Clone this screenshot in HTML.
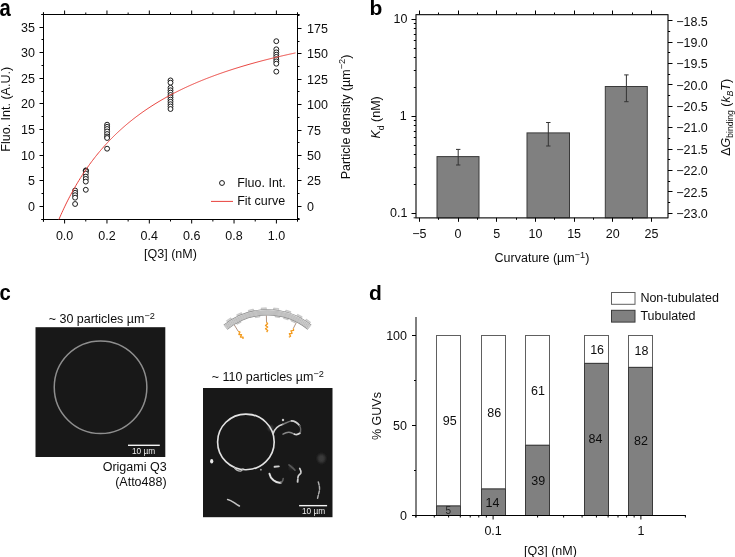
<!DOCTYPE html>
<html><head><meta charset="utf-8"><style>
html,body{margin:0;padding:0;background:#fff;}
body{width:735px;height:557px;overflow:hidden;}
svg{display:block;font-family:"Liberation Sans", sans-serif;will-change:transform;}
</style></head><body>
<svg width="735" height="557" viewBox="0 0 735 557">
<text x="0" y="0" font-size="23" font-weight="bold" fill="#000" transform="translate(-0.6 15.6) scale(0.88 1)">a</text>
<rect x="43.5" y="14.5" width="254.0" height="205.0" fill="none" stroke="#000" stroke-width="1.0"/>
<line x1="43.42" y1="219.50" x2="43.42" y2="221.50" stroke="#000" stroke-width="1.0" />
<line x1="43.42" y1="14.50" x2="43.42" y2="12.50" stroke="#000" stroke-width="1.0" />
<line x1="64.60" y1="219.50" x2="64.60" y2="223.50" stroke="#000" stroke-width="1.0" />
<line x1="64.60" y1="14.50" x2="64.60" y2="10.50" stroke="#000" stroke-width="1.0" />
<line x1="85.78" y1="219.50" x2="85.78" y2="221.50" stroke="#000" stroke-width="1.0" />
<line x1="85.78" y1="14.50" x2="85.78" y2="12.50" stroke="#000" stroke-width="1.0" />
<line x1="106.96" y1="219.50" x2="106.96" y2="223.50" stroke="#000" stroke-width="1.0" />
<line x1="106.96" y1="14.50" x2="106.96" y2="10.50" stroke="#000" stroke-width="1.0" />
<line x1="128.14" y1="219.50" x2="128.14" y2="221.50" stroke="#000" stroke-width="1.0" />
<line x1="128.14" y1="14.50" x2="128.14" y2="12.50" stroke="#000" stroke-width="1.0" />
<line x1="149.32" y1="219.50" x2="149.32" y2="223.50" stroke="#000" stroke-width="1.0" />
<line x1="149.32" y1="14.50" x2="149.32" y2="10.50" stroke="#000" stroke-width="1.0" />
<line x1="170.50" y1="219.50" x2="170.50" y2="221.50" stroke="#000" stroke-width="1.0" />
<line x1="170.50" y1="14.50" x2="170.50" y2="12.50" stroke="#000" stroke-width="1.0" />
<line x1="191.68" y1="219.50" x2="191.68" y2="223.50" stroke="#000" stroke-width="1.0" />
<line x1="191.68" y1="14.50" x2="191.68" y2="10.50" stroke="#000" stroke-width="1.0" />
<line x1="212.86" y1="219.50" x2="212.86" y2="221.50" stroke="#000" stroke-width="1.0" />
<line x1="212.86" y1="14.50" x2="212.86" y2="12.50" stroke="#000" stroke-width="1.0" />
<line x1="234.04" y1="219.50" x2="234.04" y2="223.50" stroke="#000" stroke-width="1.0" />
<line x1="234.04" y1="14.50" x2="234.04" y2="10.50" stroke="#000" stroke-width="1.0" />
<line x1="255.22" y1="219.50" x2="255.22" y2="221.50" stroke="#000" stroke-width="1.0" />
<line x1="255.22" y1="14.50" x2="255.22" y2="12.50" stroke="#000" stroke-width="1.0" />
<line x1="276.40" y1="219.50" x2="276.40" y2="223.50" stroke="#000" stroke-width="1.0" />
<line x1="276.40" y1="14.50" x2="276.40" y2="10.50" stroke="#000" stroke-width="1.0" />
<line x1="43.50" y1="219.50" x2="43.50" y2="221.70" stroke="#000" stroke-width="1.0" />
<line x1="43.50" y1="14.50" x2="43.50" y2="12.30" stroke="#000" stroke-width="1.0" />
<line x1="297.50" y1="219.50" x2="297.50" y2="221.70" stroke="#000" stroke-width="1.0" />
<line x1="297.50" y1="14.50" x2="297.50" y2="12.30" stroke="#000" stroke-width="1.0" />
<text x="64.60" y="239.50" font-size="12.5" text-anchor="middle" fill="#0d0d0d" font-weight="normal" >0.0</text>
<text x="106.96" y="239.50" font-size="12.5" text-anchor="middle" fill="#0d0d0d" font-weight="normal" >0.2</text>
<text x="149.32" y="239.50" font-size="12.5" text-anchor="middle" fill="#0d0d0d" font-weight="normal" >0.4</text>
<text x="191.68" y="239.50" font-size="12.5" text-anchor="middle" fill="#0d0d0d" font-weight="normal" >0.6</text>
<text x="234.04" y="239.50" font-size="12.5" text-anchor="middle" fill="#0d0d0d" font-weight="normal" >0.8</text>
<text x="276.40" y="239.50" font-size="12.5" text-anchor="middle" fill="#0d0d0d" font-weight="normal" >1.0</text>
<line x1="43.50" y1="219.50" x2="41.50" y2="219.50" stroke="#000" stroke-width="1.0" />
<line x1="43.50" y1="206.50" x2="39.50" y2="206.50" stroke="#000" stroke-width="1.0" />
<text x="35.00" y="210.80" font-size="12.5" text-anchor="end" fill="#0d0d0d" font-weight="normal" >0</text>
<line x1="43.50" y1="193.50" x2="41.50" y2="193.50" stroke="#000" stroke-width="1.0" />
<line x1="43.50" y1="180.50" x2="39.50" y2="180.50" stroke="#000" stroke-width="1.0" />
<text x="35.00" y="184.80" font-size="12.5" text-anchor="end" fill="#0d0d0d" font-weight="normal" >5</text>
<line x1="43.50" y1="167.50" x2="41.50" y2="167.50" stroke="#000" stroke-width="1.0" />
<line x1="43.50" y1="155.50" x2="39.50" y2="155.50" stroke="#000" stroke-width="1.0" />
<text x="35.00" y="159.80" font-size="12.5" text-anchor="end" fill="#0d0d0d" font-weight="normal" >10</text>
<line x1="43.50" y1="142.50" x2="41.50" y2="142.50" stroke="#000" stroke-width="1.0" />
<line x1="43.50" y1="129.50" x2="39.50" y2="129.50" stroke="#000" stroke-width="1.0" />
<text x="35.00" y="133.80" font-size="12.5" text-anchor="end" fill="#0d0d0d" font-weight="normal" >15</text>
<line x1="43.50" y1="116.50" x2="41.50" y2="116.50" stroke="#000" stroke-width="1.0" />
<line x1="43.50" y1="103.50" x2="39.50" y2="103.50" stroke="#000" stroke-width="1.0" />
<text x="35.00" y="107.80" font-size="12.5" text-anchor="end" fill="#0d0d0d" font-weight="normal" >20</text>
<line x1="43.50" y1="91.50" x2="41.50" y2="91.50" stroke="#000" stroke-width="1.0" />
<line x1="43.50" y1="78.50" x2="39.50" y2="78.50" stroke="#000" stroke-width="1.0" />
<text x="35.00" y="82.80" font-size="12.5" text-anchor="end" fill="#0d0d0d" font-weight="normal" >25</text>
<line x1="43.50" y1="65.50" x2="41.50" y2="65.50" stroke="#000" stroke-width="1.0" />
<line x1="43.50" y1="52.50" x2="39.50" y2="52.50" stroke="#000" stroke-width="1.0" />
<text x="35.00" y="56.80" font-size="12.5" text-anchor="end" fill="#0d0d0d" font-weight="normal" >30</text>
<line x1="43.50" y1="39.50" x2="41.50" y2="39.50" stroke="#000" stroke-width="1.0" />
<line x1="43.50" y1="27.50" x2="39.50" y2="27.50" stroke="#000" stroke-width="1.0" />
<text x="35.00" y="31.80" font-size="12.5" text-anchor="end" fill="#0d0d0d" font-weight="normal" >35</text>
<line x1="43.50" y1="14.50" x2="41.50" y2="14.50" stroke="#000" stroke-width="1.0" />
<line x1="43.50" y1="14.50" x2="41.30" y2="14.50" stroke="#000" stroke-width="1.0" />
<line x1="43.50" y1="219.50" x2="41.30" y2="219.50" stroke="#000" stroke-width="1.0" />
<line x1="297.50" y1="218.50" x2="299.50" y2="218.50" stroke="#000" stroke-width="1.0" />
<line x1="297.50" y1="206.50" x2="301.50" y2="206.50" stroke="#000" stroke-width="1.0" />
<text x="307.00" y="210.80" font-size="12.5" text-anchor="start" fill="#0d0d0d" font-weight="normal" >0</text>
<line x1="297.50" y1="193.50" x2="299.50" y2="193.50" stroke="#000" stroke-width="1.0" />
<line x1="297.50" y1="180.50" x2="301.50" y2="180.50" stroke="#000" stroke-width="1.0" />
<text x="307.00" y="184.80" font-size="12.5" text-anchor="start" fill="#0d0d0d" font-weight="normal" >25</text>
<line x1="297.50" y1="168.50" x2="299.50" y2="168.50" stroke="#000" stroke-width="1.0" />
<line x1="297.50" y1="155.50" x2="301.50" y2="155.50" stroke="#000" stroke-width="1.0" />
<text x="307.00" y="159.80" font-size="12.5" text-anchor="start" fill="#0d0d0d" font-weight="normal" >50</text>
<line x1="297.50" y1="142.50" x2="299.50" y2="142.50" stroke="#000" stroke-width="1.0" />
<line x1="297.50" y1="130.50" x2="301.50" y2="130.50" stroke="#000" stroke-width="1.0" />
<text x="307.00" y="134.80" font-size="12.5" text-anchor="start" fill="#0d0d0d" font-weight="normal" >75</text>
<line x1="297.50" y1="117.50" x2="299.50" y2="117.50" stroke="#000" stroke-width="1.0" />
<line x1="297.50" y1="104.50" x2="301.50" y2="104.50" stroke="#000" stroke-width="1.0" />
<text x="307.00" y="108.80" font-size="12.5" text-anchor="start" fill="#0d0d0d" font-weight="normal" >100</text>
<line x1="297.50" y1="91.50" x2="299.50" y2="91.50" stroke="#000" stroke-width="1.0" />
<line x1="297.50" y1="79.50" x2="301.50" y2="79.50" stroke="#000" stroke-width="1.0" />
<text x="307.00" y="83.80" font-size="12.5" text-anchor="start" fill="#0d0d0d" font-weight="normal" >125</text>
<line x1="297.50" y1="66.50" x2="299.50" y2="66.50" stroke="#000" stroke-width="1.0" />
<line x1="297.50" y1="53.50" x2="301.50" y2="53.50" stroke="#000" stroke-width="1.0" />
<text x="307.00" y="57.80" font-size="12.5" text-anchor="start" fill="#0d0d0d" font-weight="normal" >150</text>
<line x1="297.50" y1="41.50" x2="299.50" y2="41.50" stroke="#000" stroke-width="1.0" />
<line x1="297.50" y1="28.50" x2="301.50" y2="28.50" stroke="#000" stroke-width="1.0" />
<text x="307.00" y="32.80" font-size="12.5" text-anchor="start" fill="#0d0d0d" font-weight="normal" >175</text>
<line x1="297.50" y1="15.50" x2="299.50" y2="15.50" stroke="#000" stroke-width="1.0" />
<line x1="297.50" y1="14.50" x2="299.70" y2="14.50" stroke="#000" stroke-width="1.0" />
<line x1="297.50" y1="219.50" x2="299.70" y2="219.50" stroke="#000" stroke-width="1.0" />
<text x="9.90" y="109.30" font-size="12.5" text-anchor="middle" fill="#0d0d0d" font-weight="normal" transform="rotate(-90 9.9 109.3)">Fluo. Int. (A.U.)</text>
<text x="349.5" y="117" font-size="12.5" text-anchor="middle" fill="#0d0d0d" transform="rotate(-90 349.5 117)">Particle density (µm<tspan dy="-4.2" font-size="9.2">−2</tspan><tspan dy="4.2">)</tspan></text>
<text x="170.50" y="258.40" font-size="12.5" text-anchor="middle" fill="#0d0d0d" font-weight="normal" >[Q3] (nM)</text>
<circle cx="75.1" cy="190.5" r="2.45" fill="#fff" stroke="#111" stroke-width="0.95"/>
<circle cx="75.1" cy="192.8" r="2.45" fill="#fff" stroke="#111" stroke-width="0.95"/>
<circle cx="75.1" cy="195.2" r="2.45" fill="#fff" stroke="#111" stroke-width="0.95"/>
<circle cx="75.1" cy="197.7" r="2.45" fill="#fff" stroke="#111" stroke-width="0.95"/>
<circle cx="75.1" cy="204.0" r="2.45" fill="#fff" stroke="#111" stroke-width="0.95"/>
<circle cx="85.8" cy="170.4" r="2.45" fill="#fff" stroke="#111" stroke-width="0.95"/>
<circle cx="85.8" cy="170.8" r="2.45" fill="#fff" stroke="#111" stroke-width="0.95"/>
<circle cx="85.8" cy="171.2" r="2.45" fill="#fff" stroke="#111" stroke-width="0.95"/>
<circle cx="85.8" cy="173.5" r="2.45" fill="#fff" stroke="#111" stroke-width="0.95"/>
<circle cx="85.8" cy="176.6" r="2.45" fill="#fff" stroke="#111" stroke-width="0.95"/>
<circle cx="85.8" cy="178.9" r="2.45" fill="#fff" stroke="#111" stroke-width="0.95"/>
<circle cx="85.8" cy="181.6" r="2.45" fill="#fff" stroke="#111" stroke-width="0.95"/>
<circle cx="85.8" cy="189.8" r="2.45" fill="#fff" stroke="#111" stroke-width="0.95"/>
<circle cx="107.1" cy="124.7" r="2.45" fill="#fff" stroke="#111" stroke-width="0.95"/>
<circle cx="107.1" cy="126.8" r="2.45" fill="#fff" stroke="#111" stroke-width="0.95"/>
<circle cx="107.1" cy="129.0" r="2.45" fill="#fff" stroke="#111" stroke-width="0.95"/>
<circle cx="107.1" cy="131.5" r="2.45" fill="#fff" stroke="#111" stroke-width="0.95"/>
<circle cx="107.1" cy="134.0" r="2.45" fill="#fff" stroke="#111" stroke-width="0.95"/>
<circle cx="107.1" cy="136.5" r="2.45" fill="#fff" stroke="#111" stroke-width="0.95"/>
<circle cx="107.1" cy="138.0" r="2.45" fill="#fff" stroke="#111" stroke-width="0.95"/>
<circle cx="107.1" cy="148.7" r="2.45" fill="#fff" stroke="#111" stroke-width="0.95"/>
<circle cx="170.5" cy="80.4" r="2.45" fill="#fff" stroke="#111" stroke-width="0.95"/>
<circle cx="170.5" cy="82.7" r="2.45" fill="#fff" stroke="#111" stroke-width="0.95"/>
<circle cx="170.5" cy="87.8" r="2.45" fill="#fff" stroke="#111" stroke-width="0.95"/>
<circle cx="170.5" cy="90.3" r="2.45" fill="#fff" stroke="#111" stroke-width="0.95"/>
<circle cx="170.5" cy="92.6" r="2.45" fill="#fff" stroke="#111" stroke-width="0.95"/>
<circle cx="170.5" cy="95.0" r="2.45" fill="#fff" stroke="#111" stroke-width="0.95"/>
<circle cx="170.5" cy="97.3" r="2.45" fill="#fff" stroke="#111" stroke-width="0.95"/>
<circle cx="170.5" cy="99.6" r="2.45" fill="#fff" stroke="#111" stroke-width="0.95"/>
<circle cx="170.5" cy="101.8" r="2.45" fill="#fff" stroke="#111" stroke-width="0.95"/>
<circle cx="170.5" cy="104.2" r="2.45" fill="#fff" stroke="#111" stroke-width="0.95"/>
<circle cx="170.5" cy="106.5" r="2.45" fill="#fff" stroke="#111" stroke-width="0.95"/>
<circle cx="170.5" cy="109.0" r="2.45" fill="#fff" stroke="#111" stroke-width="0.95"/>
<circle cx="276.3" cy="41.2" r="2.45" fill="#fff" stroke="#111" stroke-width="0.95"/>
<circle cx="276.3" cy="49.3" r="2.45" fill="#fff" stroke="#111" stroke-width="0.95"/>
<circle cx="276.3" cy="52.4" r="2.45" fill="#fff" stroke="#111" stroke-width="0.95"/>
<circle cx="276.3" cy="54.7" r="2.45" fill="#fff" stroke="#111" stroke-width="0.95"/>
<circle cx="276.3" cy="56.9" r="2.45" fill="#fff" stroke="#111" stroke-width="0.95"/>
<circle cx="276.3" cy="59.2" r="2.45" fill="#fff" stroke="#111" stroke-width="0.95"/>
<circle cx="276.3" cy="61.4" r="2.45" fill="#fff" stroke="#111" stroke-width="0.95"/>
<circle cx="276.3" cy="63.7" r="2.45" fill="#fff" stroke="#111" stroke-width="0.95"/>
<circle cx="276.3" cy="71.6" r="2.45" fill="#fff" stroke="#111" stroke-width="0.95"/>
<clipPath id="clipa"><rect x="43.5" y="14.5" width="254.0" height="205.0"/></clipPath>
<polyline clip-path="url(#clipa)" fill="none" stroke="#e8413c" stroke-width="1" points="58.04,221.47 59.03,219.15 60.02,216.87 61.01,214.64 62.00,212.45 62.99,210.30 63.98,208.18 64.97,206.11 65.95,204.07 66.94,202.07 67.93,200.11 68.92,198.18 69.91,196.28 70.90,194.42 71.89,192.59 72.88,190.79 73.87,189.02 74.86,187.28 75.85,185.57 76.84,183.89 77.83,182.23 78.82,180.60 79.81,179.00 80.79,177.42 81.78,175.87 82.77,174.34 83.76,172.84 84.75,171.35 85.74,169.90 86.73,168.46 87.72,167.05 88.71,165.65 89.70,164.28 90.69,162.93 91.68,161.59 92.67,160.28 93.66,158.99 94.65,157.71 95.63,156.45 96.62,155.21 97.61,153.99 98.60,152.78 99.59,151.60 100.58,150.42 101.57,149.27 102.56,148.13 103.55,147.00 104.54,145.89 105.53,144.79 106.52,143.71 107.51,142.65 108.50,141.59 109.49,140.55 110.47,139.53 111.46,138.51 112.45,137.51 113.44,136.52 114.43,135.55 115.42,134.59 116.41,133.63 117.40,132.70 118.39,131.77 119.38,130.85 120.37,129.94 121.36,129.05 122.35,128.17 123.34,127.29 124.33,126.43 125.31,125.58 126.30,124.73 127.29,123.90 128.28,123.07 129.27,122.26 130.26,121.45 131.25,120.66 132.24,119.87 133.23,119.09 134.22,118.32 135.21,117.56 136.20,116.81 137.19,116.06 138.18,115.33 139.17,114.60 140.15,113.88 141.14,113.17 142.13,112.46 143.12,111.76 144.11,111.07 145.10,110.39 146.09,109.71 147.08,109.04 148.07,108.38 149.06,107.73 150.05,107.08 151.04,106.44 152.03,105.80 153.02,105.17 154.01,104.55 154.99,103.93 155.98,103.32 156.97,102.72 157.96,102.12 158.95,101.52 159.94,100.94 160.93,100.36 161.92,99.78 162.91,99.21 163.90,98.65 164.89,98.09 165.88,97.53 166.87,96.98 167.86,96.44 168.85,95.90 169.83,95.37 170.82,94.84 171.81,94.31 172.80,93.80 173.79,93.28 174.78,92.77 175.77,92.27 176.76,91.77 177.75,91.27 178.74,90.78 179.73,90.29 180.72,89.81 181.71,89.33 182.70,88.85 183.69,88.38 184.67,87.92 185.66,87.46 186.65,87.00 187.64,86.54 188.63,86.09 189.62,85.65 190.61,85.20 191.60,84.76 192.59,84.33 193.58,83.90 194.57,83.47 195.56,83.04 196.55,82.62 197.54,82.20 198.53,81.79 199.51,81.38 200.50,80.97 201.49,80.57 202.48,80.16 203.47,79.77 204.46,79.37 205.45,78.98 206.44,78.59 207.43,78.21 208.42,77.82 209.41,77.44 210.40,77.07 211.39,76.69 212.38,76.32 213.37,75.96 214.35,75.59 215.34,75.23 216.33,74.87 217.32,74.51 218.31,74.16 219.30,73.81 220.29,73.46 221.28,73.11 222.27,72.77 223.26,72.43 224.25,72.09 225.24,71.75 226.23,71.42 227.22,71.09 228.21,70.76 229.19,70.43 230.18,70.11 231.17,69.79 232.16,69.47 233.15,69.15 234.14,68.84 235.13,68.52 236.12,68.21 237.11,67.91 238.10,67.60 239.09,67.30 240.08,66.99 241.07,66.69 242.06,66.40 243.05,66.10 244.03,65.81 245.02,65.52 246.01,65.23 247.00,64.94 247.99,64.65 248.98,64.37 249.97,64.09 250.96,63.81 251.95,63.53 252.94,63.26 253.93,62.98 254.92,62.71 255.91,62.44 256.90,62.17 257.89,61.90 258.87,61.64 259.86,61.37 260.85,61.11 261.84,60.85 262.83,60.59 263.82,60.34 264.81,60.08 265.80,59.83 266.79,59.58 267.78,59.32 268.77,59.08 269.76,58.83 270.75,58.58 271.74,58.34 272.73,58.10 273.71,57.86 274.70,57.62 275.69,57.38 276.68,57.14 277.67,56.91 278.66,56.67 279.65,56.44 280.64,56.21 281.63,55.98 282.62,55.75 283.61,55.53 284.60,55.30 285.59,55.08 286.58,54.85 287.57,54.63 288.55,54.41 289.54,54.19 290.53,53.98 291.52,53.76 292.51,53.55 293.50,53.33 294.49,53.12 295.48,52.91"/>
<circle cx="222" cy="183" r="2.45" fill="#fff" stroke="#111" stroke-width="0.95"/>
<text x="237.20" y="186.60" font-size="12.5" text-anchor="start" fill="#0d0d0d" font-weight="normal" >Fluo. Int.</text>
<line x1="211.00" y1="201.40" x2="233.00" y2="201.40" stroke="#e8413c" stroke-width="1" />
<text x="237.20" y="204.60" font-size="12.5" text-anchor="start" fill="#0d0d0d" font-weight="normal" >Fit curve</text>
<text x="369.40" y="15.30" font-size="21" text-anchor="start" fill="#000" font-weight="bold" >b</text>
<rect x="437.00" y="156.60" width="42.00" height="61.20" fill="#808080" stroke="#3a3a3a" stroke-width="1"/>
<rect x="527.00" y="132.90" width="42.50" height="84.90" fill="#808080" stroke="#3a3a3a" stroke-width="1"/>
<rect x="605.30" y="86.50" width="42.00" height="131.30" fill="#808080" stroke="#3a3a3a" stroke-width="1"/>
<line x1="458.20" y1="149.40" x2="458.20" y2="165.00" stroke="#333" stroke-width="1" />
<line x1="456.00" y1="149.40" x2="460.40" y2="149.40" stroke="#333" stroke-width="1" />
<line x1="456.00" y1="165.00" x2="460.40" y2="165.00" stroke="#333" stroke-width="1" />
<line x1="548.30" y1="122.50" x2="548.30" y2="146.00" stroke="#333" stroke-width="1" />
<line x1="546.10" y1="122.50" x2="550.50" y2="122.50" stroke="#333" stroke-width="1" />
<line x1="546.10" y1="146.00" x2="550.50" y2="146.00" stroke="#333" stroke-width="1" />
<line x1="626.40" y1="74.90" x2="626.40" y2="101.70" stroke="#333" stroke-width="1" />
<line x1="624.20" y1="74.90" x2="628.60" y2="74.90" stroke="#333" stroke-width="1" />
<line x1="624.20" y1="101.70" x2="628.60" y2="101.70" stroke="#333" stroke-width="1" />
<rect x="416.0" y="14.5" width="252.0" height="203.3" fill="none" stroke="#222" stroke-width="1.25" stroke-linejoin="round"/>
<line x1="419.50" y1="217.80" x2="419.50" y2="221.80" stroke="#000" stroke-width="1.0" />
<line x1="419.50" y1="14.50" x2="419.50" y2="10.50" stroke="#000" stroke-width="1.0" />
<text x="419.30" y="238.00" font-size="12.5" text-anchor="middle" fill="#0d0d0d" font-weight="normal" >−5</text>
<line x1="438.50" y1="217.80" x2="438.50" y2="219.80" stroke="#000" stroke-width="1.0" />
<line x1="438.50" y1="14.50" x2="438.50" y2="12.50" stroke="#000" stroke-width="1.0" />
<line x1="458.50" y1="217.80" x2="458.50" y2="221.80" stroke="#000" stroke-width="1.0" />
<line x1="458.50" y1="14.50" x2="458.50" y2="10.50" stroke="#000" stroke-width="1.0" />
<text x="458.00" y="238.00" font-size="12.5" text-anchor="middle" fill="#0d0d0d" font-weight="normal" >0</text>
<line x1="477.50" y1="217.80" x2="477.50" y2="219.80" stroke="#000" stroke-width="1.0" />
<line x1="477.50" y1="14.50" x2="477.50" y2="12.50" stroke="#000" stroke-width="1.0" />
<line x1="496.50" y1="217.80" x2="496.50" y2="221.80" stroke="#000" stroke-width="1.0" />
<line x1="496.50" y1="14.50" x2="496.50" y2="10.50" stroke="#000" stroke-width="1.0" />
<text x="496.70" y="238.00" font-size="12.5" text-anchor="middle" fill="#0d0d0d" font-weight="normal" >5</text>
<line x1="516.50" y1="217.80" x2="516.50" y2="219.80" stroke="#000" stroke-width="1.0" />
<line x1="516.50" y1="14.50" x2="516.50" y2="12.50" stroke="#000" stroke-width="1.0" />
<line x1="535.50" y1="217.80" x2="535.50" y2="221.80" stroke="#000" stroke-width="1.0" />
<line x1="535.50" y1="14.50" x2="535.50" y2="10.50" stroke="#000" stroke-width="1.0" />
<text x="535.40" y="238.00" font-size="12.5" text-anchor="middle" fill="#0d0d0d" font-weight="normal" >10</text>
<line x1="554.50" y1="217.80" x2="554.50" y2="219.80" stroke="#000" stroke-width="1.0" />
<line x1="554.50" y1="14.50" x2="554.50" y2="12.50" stroke="#000" stroke-width="1.0" />
<line x1="574.50" y1="217.80" x2="574.50" y2="221.80" stroke="#000" stroke-width="1.0" />
<line x1="574.50" y1="14.50" x2="574.50" y2="10.50" stroke="#000" stroke-width="1.0" />
<text x="574.10" y="238.00" font-size="12.5" text-anchor="middle" fill="#0d0d0d" font-weight="normal" >15</text>
<line x1="593.50" y1="217.80" x2="593.50" y2="219.80" stroke="#000" stroke-width="1.0" />
<line x1="593.50" y1="14.50" x2="593.50" y2="12.50" stroke="#000" stroke-width="1.0" />
<line x1="612.50" y1="217.80" x2="612.50" y2="221.80" stroke="#000" stroke-width="1.0" />
<line x1="612.50" y1="14.50" x2="612.50" y2="10.50" stroke="#000" stroke-width="1.0" />
<text x="612.80" y="238.00" font-size="12.5" text-anchor="middle" fill="#0d0d0d" font-weight="normal" >20</text>
<line x1="632.50" y1="217.80" x2="632.50" y2="219.80" stroke="#000" stroke-width="1.0" />
<line x1="632.50" y1="14.50" x2="632.50" y2="12.50" stroke="#000" stroke-width="1.0" />
<line x1="651.50" y1="217.80" x2="651.50" y2="221.80" stroke="#000" stroke-width="1.0" />
<line x1="651.50" y1="14.50" x2="651.50" y2="10.50" stroke="#000" stroke-width="1.0" />
<text x="651.50" y="238.00" font-size="12.5" text-anchor="middle" fill="#0d0d0d" font-weight="normal" >25</text>
<line x1="416.00" y1="217.80" x2="413.60" y2="217.80" stroke="#222" stroke-width="1" />
<line x1="416.00" y1="213.50" x2="411.50" y2="213.50" stroke="#000" stroke-width="1.0" />
<line x1="416.00" y1="184.50" x2="413.80" y2="184.50" stroke="#000" stroke-width="1.0" />
<line x1="416.00" y1="167.50" x2="413.80" y2="167.50" stroke="#000" stroke-width="1.0" />
<line x1="416.00" y1="154.50" x2="413.80" y2="154.50" stroke="#000" stroke-width="1.0" />
<line x1="416.00" y1="145.50" x2="413.80" y2="145.50" stroke="#000" stroke-width="1.0" />
<line x1="416.00" y1="137.50" x2="413.80" y2="137.50" stroke="#000" stroke-width="1.0" />
<line x1="416.00" y1="131.50" x2="413.80" y2="131.50" stroke="#000" stroke-width="1.0" />
<line x1="416.00" y1="125.50" x2="413.80" y2="125.50" stroke="#000" stroke-width="1.0" />
<line x1="416.00" y1="120.50" x2="413.80" y2="120.50" stroke="#000" stroke-width="1.0" />
<line x1="416.00" y1="116.50" x2="411.50" y2="116.50" stroke="#000" stroke-width="1.0" />
<line x1="416.00" y1="87.50" x2="413.80" y2="87.50" stroke="#000" stroke-width="1.0" />
<line x1="416.00" y1="70.50" x2="413.80" y2="70.50" stroke="#000" stroke-width="1.0" />
<line x1="416.00" y1="57.50" x2="413.80" y2="57.50" stroke="#000" stroke-width="1.0" />
<line x1="416.00" y1="48.50" x2="413.80" y2="48.50" stroke="#000" stroke-width="1.0" />
<line x1="416.00" y1="40.50" x2="413.80" y2="40.50" stroke="#000" stroke-width="1.0" />
<line x1="416.00" y1="34.50" x2="413.80" y2="34.50" stroke="#000" stroke-width="1.0" />
<line x1="416.00" y1="28.50" x2="413.80" y2="28.50" stroke="#000" stroke-width="1.0" />
<line x1="416.00" y1="23.50" x2="413.80" y2="23.50" stroke="#000" stroke-width="1.0" />
<line x1="416.00" y1="19.50" x2="411.50" y2="19.50" stroke="#000" stroke-width="1.0" />
<text x="407.50" y="23.10" font-size="12.5" text-anchor="end" fill="#0d0d0d" font-weight="normal" >10</text>
<text x="406.80" y="120.10" font-size="12.5" text-anchor="end" fill="#0d0d0d" font-weight="normal" >1</text>
<text x="407.50" y="217.10" font-size="12.5" text-anchor="end" fill="#0d0d0d" font-weight="normal" >0.1</text>
<line x1="668.00" y1="20.50" x2="672.50" y2="20.50" stroke="#000" stroke-width="1.0" />
<text x="676.20" y="25.70" font-size="12.5" text-anchor="start" fill="#0d0d0d" font-weight="normal" >−18.5</text>
<line x1="668.00" y1="31.50" x2="670.20" y2="31.50" stroke="#000" stroke-width="1.0" />
<line x1="668.00" y1="42.50" x2="672.50" y2="42.50" stroke="#000" stroke-width="1.0" />
<text x="676.20" y="47.05" font-size="12.5" text-anchor="start" fill="#0d0d0d" font-weight="normal" >−19.0</text>
<line x1="668.00" y1="52.50" x2="670.20" y2="52.50" stroke="#000" stroke-width="1.0" />
<line x1="668.00" y1="63.50" x2="672.50" y2="63.50" stroke="#000" stroke-width="1.0" />
<text x="676.20" y="68.40" font-size="12.5" text-anchor="start" fill="#0d0d0d" font-weight="normal" >−19.5</text>
<line x1="668.00" y1="74.50" x2="670.20" y2="74.50" stroke="#000" stroke-width="1.0" />
<line x1="668.00" y1="84.50" x2="672.50" y2="84.50" stroke="#000" stroke-width="1.0" />
<text x="676.20" y="89.75" font-size="12.5" text-anchor="start" fill="#0d0d0d" font-weight="normal" >−20.0</text>
<line x1="668.00" y1="95.50" x2="670.20" y2="95.50" stroke="#000" stroke-width="1.0" />
<line x1="668.00" y1="106.50" x2="672.50" y2="106.50" stroke="#000" stroke-width="1.0" />
<text x="676.20" y="111.10" font-size="12.5" text-anchor="start" fill="#0d0d0d" font-weight="normal" >−20.5</text>
<line x1="668.00" y1="116.50" x2="670.20" y2="116.50" stroke="#000" stroke-width="1.0" />
<line x1="668.00" y1="127.50" x2="672.50" y2="127.50" stroke="#000" stroke-width="1.0" />
<text x="676.20" y="132.45" font-size="12.5" text-anchor="start" fill="#0d0d0d" font-weight="normal" >−21.0</text>
<line x1="668.00" y1="138.50" x2="670.20" y2="138.50" stroke="#000" stroke-width="1.0" />
<line x1="668.00" y1="149.50" x2="672.50" y2="149.50" stroke="#000" stroke-width="1.0" />
<text x="676.20" y="153.80" font-size="12.5" text-anchor="start" fill="#0d0d0d" font-weight="normal" >−21.5</text>
<line x1="668.00" y1="159.50" x2="670.20" y2="159.50" stroke="#000" stroke-width="1.0" />
<line x1="668.00" y1="170.50" x2="672.50" y2="170.50" stroke="#000" stroke-width="1.0" />
<text x="676.20" y="175.15" font-size="12.5" text-anchor="start" fill="#0d0d0d" font-weight="normal" >−22.0</text>
<line x1="668.00" y1="181.50" x2="670.20" y2="181.50" stroke="#000" stroke-width="1.0" />
<line x1="668.00" y1="191.50" x2="672.50" y2="191.50" stroke="#000" stroke-width="1.0" />
<text x="676.20" y="196.50" font-size="12.5" text-anchor="start" fill="#0d0d0d" font-weight="normal" >−22.5</text>
<line x1="668.00" y1="202.50" x2="670.20" y2="202.50" stroke="#000" stroke-width="1.0" />
<line x1="668.00" y1="213.50" x2="672.50" y2="213.50" stroke="#000" stroke-width="1.0" />
<text x="676.20" y="217.85" font-size="12.5" text-anchor="start" fill="#0d0d0d" font-weight="normal" >−23.0</text>
<text x="380.2" y="117.4" font-size="12.5" text-anchor="middle" fill="#0d0d0d" transform="rotate(-90 380.2 117.4)"><tspan font-style="italic">K</tspan><tspan dy="3.8" font-size="8.5">d</tspan><tspan dy="-3.8"> (nM)</tspan></text>
<text x="542" y="261.8" font-size="12.5" text-anchor="middle" fill="#0d0d0d">Curvature (µm<tspan dy="-4.2" font-size="9.2">−1</tspan><tspan dy="4.2">)</tspan></text>
<text x="730.3" y="117.3" font-size="12.5" text-anchor="middle" fill="#0d0d0d" transform="rotate(-90 730.3 117.3)">Δ<tspan font-style="italic">G</tspan><tspan dy="3" font-size="8.5">binding</tspan><tspan dy="-3"> (</tspan><tspan font-style="italic">k</tspan><tspan dy="3" font-size="8.5" font-style="italic">B</tspan><tspan dy="-3" font-style="italic">T</tspan>)</text>
<text x="0" y="0" font-size="22" font-weight="bold" fill="#000" transform="translate(-0.5 300.1) scale(0.92 1)">c</text>
<text x="101.8" y="322.7" font-size="12.5" text-anchor="middle" fill="#0d0d0d">~ 30 particles µm<tspan dy="-4.2" font-size="9.2">−2</tspan></text>
<defs><filter id="bl" x="-20%" y="-20%" width="140%" height="140%"><feGaussianBlur stdDeviation="0.5"/></filter><filter id="bl3" x="-20%" y="-20%" width="140%" height="140%"><feGaussianBlur stdDeviation="0.6"/></filter><filter id="bl2" x="-50%" y="-50%" width="200%" height="200%"><feGaussianBlur stdDeviation="1.2"/></filter></defs>
<rect x="35.5" y="327.2" width="129.8" height="129.8" fill="#181818"/>
<g filter="url(#bl)"><circle cx="100.55" cy="387.2" r="46.3" fill="none" stroke="#8e8e8e" stroke-width="1.5"/></g>
<line x1="128.00" y1="445.30" x2="159.80" y2="445.30" stroke="#f4f4f4" stroke-width="1.4" />
<text x="143.50" y="454.00" font-size="8.3" text-anchor="middle" fill="#eee" font-weight="normal" >10 µm</text>
<text x="166.60" y="471.40" font-size="12.5" text-anchor="end" fill="#0d0d0d" font-weight="normal" >Origami Q3</text>
<text x="166.60" y="486.40" font-size="12.5" text-anchor="end" fill="#0d0d0d" font-weight="normal" >(Atto488)</text>
<text x="267.8" y="380.8" font-size="12.5" text-anchor="middle" fill="#0d0d0d">~ 110 particles µm<tspan dy="-4.2" font-size="9.2">−2</tspan></text>
<rect x="203" y="388" width="129.5" height="129.2" fill="#181818"/>
<g filter="url(#bl2)"><ellipse cx="321.5" cy="458.5" rx="4" ry="4.5" fill="#3a3a3a"/><circle cx="270.5" cy="428" r="2.5" fill="#4a4a4a"/><circle cx="291" cy="467.5" r="2" fill="#303030"/></g>
<g filter="url(#bl3)" fill="none" stroke-linecap="round">
<ellipse cx="245.9" cy="441.9" rx="28.3" ry="27.8" stroke="#e2e2e2" stroke-width="1.62"/>
<path d="M273.2,433.5 C274.5,429 278.5,425.5 283,424.2" stroke="#d6d6d6" stroke-width="1.69"/>
<path d="M283,424.2 C286,423 288.5,421.5 291.5,420.9" stroke="#777" stroke-width="1.43"/>
<path d="M291.5,420.9 C294.5,421 297.5,423 299.5,425.5" stroke="#d0d0d0" stroke-width="1.69"/>
<path d="M299.5,425.5 C301,428 301,431 299.8,433.3" stroke="#666" stroke-width="1.43"/>
<path d="M283,434.2 C285,433 287,432.2 289,432.3 C291.5,432.6 293,433.5 294.5,434.2" stroke="#888" stroke-width="1.43"/>
<path d="M294.5,434.2 C296,434.8 298,434.6 299.8,433.3" stroke="#d8d8d8" stroke-width="1.69"/>
<path d="M274.6,466.8 L278.8,466.4" stroke="#d0d0d0" stroke-width="1.95"/>
<path d="M269.5,473.8 C269.8,476 271,478 273.5,480.3 C275.5,482 278.5,483 281.2,482.5" stroke="#e0e0e0" stroke-width="1.95"/>
<path d="M281.2,482.5 C282.5,481.5 283.3,480 283.2,478.5" stroke="#666" stroke-width="1.43"/>
<path d="M289,464.8 C291,466.5 293.5,468.5 295,470.2" stroke="#555" stroke-width="1.69"/>
<path d="M299.7,468.4 C300.6,470 301.3,471.8 300.9,472.9 C300.3,474.2 298.9,474.8 298.5,475.6 C298,476.8 297.8,477.5 297.9,478" stroke="#d0d0d0" stroke-width="1.69"/>
<path d="M297.8,479.5 L297.6,481.8" stroke="#ccc" stroke-width="1.82"/>
<path d="M318.3,482 C319.5,486 320,489 319,492.5 C318.3,495 318,497 317.3,499" stroke="#b0b0b0" stroke-width="1.43" stroke-dasharray="3 1.5"/>
<path d="M227.6,499.5 C230,500 232.5,501.5 234.5,502.8 C236,503.8 237.8,505 239.4,506" stroke="#c4c4c4" stroke-width="1.56"/>
<path d="M234,467.2 C235.5,469.5 237.5,471.3 240.5,471.2 C242,470.5 242.5,469.5 243,468.8" stroke="#bbb" stroke-width="1.30"/>
</g>
<ellipse cx="211.7" cy="461.3" rx="1.6" ry="2.3" fill="#e8e8e8" filter="url(#bl)"/>
<circle cx="283" cy="420" r="1.2" fill="#c8c8c8" filter="url(#bl)"/>
<circle cx="260.9" cy="469.7" r="0.9" fill="#aaa" filter="url(#bl)"/>
<line x1="299.10" y1="505.65" x2="327.10" y2="505.65" stroke="#f4f4f4" stroke-width="1.4" />
<text x="313.60" y="513.80" font-size="8.3" text-anchor="middle" fill="#eee" font-weight="normal" >10 µm</text>
<rect x="264.90" y="307.70" width="5.2" height="2.2" fill="#d2d2d2" stroke="#a8a8a8" stroke-width="0.4" transform="rotate(-33 267.5 379.1)"/>
<rect x="264.90" y="307.70" width="5.2" height="2.2" fill="#d2d2d2" stroke="#a8a8a8" stroke-width="0.4" transform="rotate(-23.5 267.5 379.1)"/>
<rect x="264.90" y="307.70" width="5.2" height="2.2" fill="#d2d2d2" stroke="#a8a8a8" stroke-width="0.4" transform="rotate(-13.5 267.5 379.1)"/>
<rect x="264.90" y="307.70" width="5.2" height="2.2" fill="#d2d2d2" stroke="#a8a8a8" stroke-width="0.4" transform="rotate(-3 267.5 379.1)"/>
<rect x="264.90" y="307.70" width="5.2" height="2.2" fill="#d2d2d2" stroke="#a8a8a8" stroke-width="0.4" transform="rotate(7 267.5 379.1)"/>
<rect x="264.90" y="307.70" width="5.2" height="2.2" fill="#d2d2d2" stroke="#a8a8a8" stroke-width="0.4" transform="rotate(17 267.5 379.1)"/>
<rect x="264.90" y="307.70" width="5.2" height="2.2" fill="#d2d2d2" stroke="#a8a8a8" stroke-width="0.4" transform="rotate(27 267.5 379.1)"/>
<rect x="264.90" y="307.70" width="5.2" height="2.2" fill="#d2d2d2" stroke="#a8a8a8" stroke-width="0.4" transform="rotate(35 267.5 379.1)"/>
<rect x="265.10" y="314.70" width="4.8" height="1.8" fill="#d2d2d2" stroke="#a8a8a8" stroke-width="0.4" transform="rotate(-27 267.5 379.1)"/>
<rect x="265.10" y="314.70" width="4.8" height="1.8" fill="#d2d2d2" stroke="#a8a8a8" stroke-width="0.4" transform="rotate(-9 267.5 379.1)"/>
<rect x="265.10" y="314.70" width="4.8" height="1.8" fill="#d2d2d2" stroke="#a8a8a8" stroke-width="0.4" transform="rotate(9 267.5 379.1)"/>
<rect x="265.10" y="314.70" width="4.8" height="1.8" fill="#d2d2d2" stroke="#a8a8a8" stroke-width="0.4" transform="rotate(17 267.5 379.1)"/>
<rect x="265.10" y="314.70" width="4.8" height="1.8" fill="#d2d2d2" stroke="#a8a8a8" stroke-width="0.4" transform="rotate(24 267.5 379.1)"/>
<path d="M225.46,327.19 A66.8,66.8 0 0 1 309.54,327.19" fill="none" stroke="#8a8a8a" stroke-width="6.3"/>
<path d="M225.46,327.19 A66.8,66.8 0 0 1 309.54,327.19" fill="none" stroke="#d9d9d9" stroke-width="5"/>
<path d="M226.97,328.15 A65.1,65.1 0 0 1 308.03,328.15" fill="none" stroke="#a0a0a0" stroke-width="0.5"/>
<path d="M226.29,327.29 A66.2,66.2 0 0 1 308.71,327.29" fill="none" stroke="#a0a0a0" stroke-width="0.5"/>
<path d="M225.60,326.43 A67.3,67.3 0 0 1 309.40,326.43" fill="none" stroke="#a0a0a0" stroke-width="0.5"/>
<path d="M224.92,325.57 A68.39999999999999,68.39999999999999 0 0 1 310.08,325.57" fill="none" stroke="#a0a0a0" stroke-width="0.5"/>
<line x1="234.32" y1="324.96" x2="238.24" y2="331.35" stroke="#8a6450" stroke-width="0.7"/>
<polyline points="238.24,331.35 239.96,332.06 238.87,334.48 241.53,334.61 240.44,337.04 243.10,337.17 242.94,339.03" fill="none" stroke="#f39a1c" stroke-width="1.3" stroke-linejoin="round"/>
<line x1="266.39" y1="315.61" x2="266.51" y2="322.11" stroke="#8a6450" stroke-width="0.7"/>
<polyline points="266.51,322.11 267.63,323.76 265.46,325.46 267.69,327.09 265.52,328.79 267.75,330.42 266.68,332.11" fill="none" stroke="#f39a1c" stroke-width="1.3" stroke-linejoin="round"/>
<line x1="296.33" y1="322.52" x2="293.38" y2="328.31" stroke="#8a6450" stroke-width="0.7"/>
<polyline points="293.38,328.31 293.60,330.30 290.88,330.78 292.09,333.27 289.37,333.75 290.57,336.24 288.84,337.22" fill="none" stroke="#f39a1c" stroke-width="1.3" stroke-linejoin="round"/>
<text x="369.00" y="300.20" font-size="21" text-anchor="start" fill="#000" font-weight="bold" >d</text>
<rect x="436.50" y="335.50" width="24" height="170.50" fill="#fff" stroke="#606060" stroke-width="1"/>
<rect x="436.50" y="506.00" width="24" height="9.50" fill="#808080" stroke="#3a3a3a" stroke-width="1"/>
<rect x="481.50" y="335.50" width="24" height="153.50" fill="#fff" stroke="#606060" stroke-width="1"/>
<rect x="481.50" y="489.00" width="24" height="26.50" fill="#808080" stroke="#3a3a3a" stroke-width="1"/>
<rect x="525.50" y="335.50" width="24" height="109.80" fill="#fff" stroke="#606060" stroke-width="1"/>
<rect x="525.50" y="445.30" width="24" height="70.20" fill="#808080" stroke="#3a3a3a" stroke-width="1"/>
<rect x="584.50" y="335.50" width="24" height="27.90" fill="#fff" stroke="#606060" stroke-width="1"/>
<rect x="584.50" y="363.40" width="24" height="152.10" fill="#808080" stroke="#3a3a3a" stroke-width="1"/>
<rect x="628.50" y="335.50" width="24" height="31.90" fill="#fff" stroke="#606060" stroke-width="1"/>
<rect x="628.50" y="367.40" width="24" height="148.10" fill="#808080" stroke="#3a3a3a" stroke-width="1"/>
<text x="448.40" y="513.90" font-size="10" text-anchor="middle" fill="#222" font-weight="normal" >5</text>
<text x="492.50" y="506.70" font-size="12.5" text-anchor="middle" fill="#0d0d0d" font-weight="normal" >14</text>
<text x="538.20" y="484.50" font-size="12.5" text-anchor="middle" fill="#0d0d0d" font-weight="normal" >39</text>
<text x="595.40" y="443.10" font-size="12.5" text-anchor="middle" fill="#0d0d0d" font-weight="normal" >84</text>
<text x="640.90" y="444.70" font-size="12.5" text-anchor="middle" fill="#0d0d0d" font-weight="normal" >82</text>
<text x="449.70" y="424.50" font-size="12.5" text-anchor="middle" fill="#0d0d0d" font-weight="normal" >95</text>
<text x="494.30" y="416.60" font-size="12.5" text-anchor="middle" fill="#0d0d0d" font-weight="normal" >86</text>
<text x="538.00" y="394.50" font-size="12.5" text-anchor="middle" fill="#0d0d0d" font-weight="normal" >61</text>
<text x="597.10" y="353.70" font-size="12.5" text-anchor="middle" fill="#0d0d0d" font-weight="normal" >16</text>
<text x="641.50" y="355.00" font-size="12.5" text-anchor="middle" fill="#0d0d0d" font-weight="normal" >18</text>
<line x1="416.00" y1="317.00" x2="416.00" y2="517.50" stroke="#000" stroke-width="1.0" />
<line x1="415.50" y1="515.50" x2="685.90" y2="515.50" stroke="#000" stroke-width="1.0" />
<line x1="416.00" y1="515.50" x2="412.00" y2="515.50" stroke="#000" stroke-width="1.0" />
<text x="407.00" y="519.80" font-size="12.5" text-anchor="end" fill="#0d0d0d" font-weight="normal" >0</text>
<line x1="416.00" y1="470.50" x2="414.00" y2="470.50" stroke="#000" stroke-width="1.0" />
<line x1="416.00" y1="425.50" x2="412.00" y2="425.50" stroke="#000" stroke-width="1.0" />
<text x="407.00" y="429.80" font-size="12.5" text-anchor="end" fill="#0d0d0d" font-weight="normal" >50</text>
<line x1="416.00" y1="380.50" x2="414.00" y2="380.50" stroke="#000" stroke-width="1.0" />
<line x1="416.00" y1="335.50" x2="412.00" y2="335.50" stroke="#000" stroke-width="1.0" />
<text x="407.00" y="339.80" font-size="12.5" text-anchor="end" fill="#0d0d0d" font-weight="normal" >100</text>
<line x1="415.82" y1="515.50" x2="415.82" y2="517.50" stroke="#000" stroke-width="1.0" />
<line x1="434.28" y1="515.50" x2="434.28" y2="517.50" stroke="#000" stroke-width="1.0" />
<line x1="448.61" y1="515.50" x2="448.61" y2="517.50" stroke="#000" stroke-width="1.0" />
<line x1="460.31" y1="515.50" x2="460.31" y2="517.50" stroke="#000" stroke-width="1.0" />
<line x1="470.21" y1="515.50" x2="470.21" y2="517.50" stroke="#000" stroke-width="1.0" />
<line x1="478.78" y1="515.50" x2="478.78" y2="517.50" stroke="#000" stroke-width="1.0" />
<line x1="486.34" y1="515.50" x2="486.34" y2="517.50" stroke="#000" stroke-width="1.0" />
<line x1="493.10" y1="515.50" x2="493.10" y2="519.50" stroke="#000" stroke-width="1.0" />
<line x1="537.59" y1="515.50" x2="537.59" y2="517.50" stroke="#000" stroke-width="1.0" />
<line x1="563.62" y1="515.50" x2="563.62" y2="517.50" stroke="#000" stroke-width="1.0" />
<line x1="582.08" y1="515.50" x2="582.08" y2="517.50" stroke="#000" stroke-width="1.0" />
<line x1="596.41" y1="515.50" x2="596.41" y2="517.50" stroke="#000" stroke-width="1.0" />
<line x1="608.11" y1="515.50" x2="608.11" y2="517.50" stroke="#000" stroke-width="1.0" />
<line x1="618.01" y1="515.50" x2="618.01" y2="517.50" stroke="#000" stroke-width="1.0" />
<line x1="626.58" y1="515.50" x2="626.58" y2="517.50" stroke="#000" stroke-width="1.0" />
<line x1="634.14" y1="515.50" x2="634.14" y2="517.50" stroke="#000" stroke-width="1.0" />
<line x1="640.90" y1="515.50" x2="640.90" y2="519.50" stroke="#000" stroke-width="1.0" />
<line x1="685.39" y1="515.50" x2="685.39" y2="517.50" stroke="#000" stroke-width="1.0" />
<text x="493.10" y="535.00" font-size="12.5" text-anchor="middle" fill="#0d0d0d" font-weight="normal" >0.1</text>
<text x="640.90" y="535.00" font-size="12.5" text-anchor="middle" fill="#0d0d0d" font-weight="normal" >1</text>
<text x="550.50" y="554.90" font-size="12.5" text-anchor="middle" fill="#0d0d0d" font-weight="normal" >[Q3] (nM)</text>
<text x="380.50" y="416.00" font-size="12.5" text-anchor="middle" fill="#0d0d0d" font-weight="normal" transform="rotate(-90 380.5 416)">% GUVs</text>
<rect x="611.5" y="292.5" width="23.5" height="11.8" fill="#fff" stroke="#606060" stroke-width="1"/>
<rect x="611.5" y="310.3" width="23.5" height="11.8" fill="#808080" stroke="#3a3a3a" stroke-width="1"/>
<text x="640.40" y="302.40" font-size="12.5" text-anchor="start" fill="#0d0d0d" font-weight="normal" >Non-tubulated</text>
<text x="640.40" y="319.50" font-size="12.5" text-anchor="start" fill="#0d0d0d" font-weight="normal" >Tubulated</text>
</svg>
</body></html>
